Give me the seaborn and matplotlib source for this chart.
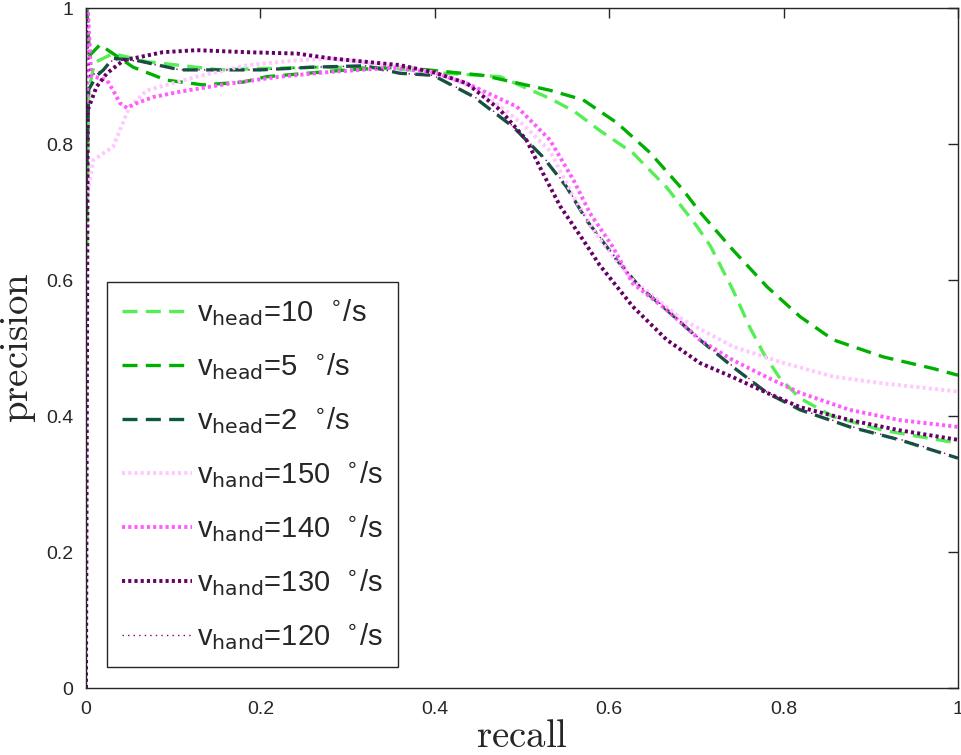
import matplotlib
matplotlib.use('Agg')
import matplotlib.pyplot as plt
import matplotlib.ticker as ticker
import pandas as pd
import seaborn as sns

# Curvas precision x recall
recall_head10 = [0.001, 0.003, 0.01, 0.031, 0.07, 0.154, 0.2, 0.268, 0.35, 0.4, 0.475, 0.532,
                 0.56, 0.589, 0.627, 0.666, 0.70, 0.716, 0.742, 0.761, 0.777, 0.796, 0.819, 0.857,
                 0.914, 1.0]
prec_head10 = [0.65, 0.88, 0.92, 0.933, 0.921, 0.909, 0.911, 0.913, 0.912, 0.905, 0.899, 0.867,
               0.848, 0.82, 0.787, 0.736, 0.680, 0.650, 0.585, 0.531, 0.492, 0.455, 0.426, 0.399,
               0.379, 0.36]

recall_head5 = [0.001, 0.004, 0.016, 0.054, 0.092, 0.134, 0.18, 0.207, 0.3, 0.36, 0.455, 0.532,
                0.57, 0.609, 0.647, 0.685, 0.704, 0.742, 0.781, 0.819, 0.857, 0.914, 0.971, 1.0]
prec_head5 = [1.0, 0.93, 0.946, 0.913, 0.894, 0.887, 0.891, 0.899, 0.909, 0.913, 0.901, 0.879,
              0.865, 0.831, 0.787, 0.732, 0.70, 0.644, 0.59, 0.546, 0.512, 0.487, 0.47, 0.46]

recall_head2 = [0.0, 0.003, 0.012, 0.02, 0.031, 0.058, 0.108, 0.146, 0.2, 0.26, 0.32, 0.36, 0.398,
                0.444, 0.49, 0.524, 0.551, 0.574, 0.609, 0.635, 0.666, 0.704, 0.742, 0.781, 0.819,
                0.876, 0.933, 1.0]
prec_head2 = [0.7, 0.88, 0.90, 0.909, 0.926, 0.923, 0.909, 0.909, 0.909, 0.913, 0.915, 0.904, 0.901,
              0.87, 0.825, 0.781, 0.737, 0.688, 0.629, 0.59, 0.556, 0.512, 0.472, 0.434, 0.409,
              0.384, 0.365, 0.338]

recall_hand150 = [0.001, 0.008, 0.031, 0.05, 0.07, 0.127, 0.185, 0.242, 0.28, 0.35, 0.4, 0.45,
                  0.5, 0.532, 0.56, 0.589, 0.627, 0.685, 0.742, 0.8, 0.857, 0.914, 1.0]
prec_hand150 = [0.72, 0.776, 0.796, 0.855, 0.879, 0.899, 0.916, 0.923, 0.926, 0.915, 0.905, 0.88,
                0.83, 0.79, 0.72, 0.66, 0.60, 0.541, 0.502, 0.478, 0.458, 0.448, 0.436]

recall_hand140 = [0.001, 0.002, 0.006, 0.024, 0.031, 0.039, 0.047, 0.058, 0.077, 0.108, 0.165,
                  0.222, 0.28, 0.35, 0.4, 0.437, 0.494, 0.532, 0.559, 0.578, 0.604, 0.627, 0.666,
                  0.704, 0.742, 0.781, 0.819, 0.876, 0.933, 1.0]
prec_hand140 = [0.75, 1.0, 0.90, 0.894, 0.879, 0.86, 0.853, 0.86, 0.869, 0.877, 0.889,
                0.899, 0.906, 0.912, 0.905, 0.889, 0.855, 0.806, 0.747, 0.698, 0.649, 0.595, 0.556,
                0.512, 0.482, 0.457, 0.434, 0.409, 0.394, 0.384]

recall_hand130 = [0.0, 0.002, 0.012, 0.024, 0.043, 0.062, 0.088, 0.127, 0.185, 0.242, 0.28, 0.36,
                  0.4, 0.437, 0.475, 0.505, 0.524, 0.544, 0.57, 0.589, 0.609, 0.627, 0.666, 0.704,
                  0.742, 0.781, 0.819, 0.876, 0.933, 1.0]
prec_hand130 = [0.0, 0.85, 0.884, 0.904, 0.923, 0.928, 0.935, 0.938, 0.935, 0.933, 0.926, 0.916,
                0.905, 0.889, 0.85, 0.806, 0.757, 0.708, 0.659, 0.622, 0.59, 0.561, 0.512, 0.478,
                0.457, 0.434, 0.413, 0.394, 0.379, 0.365]

recall_hand120 = [0.0, 0.001, 0.004, 0.02, 0.031, 0.058, 0.108, 0.146, 0.2, 0.26, 0.32, 0.36, 0.398,
                  0.444, 0.49, 0.524, 0.551, 0.574, 0.609, 0.635, 0.666, 0.704, 0.742, 0.781, 0.819,
                  0.876, 0.933, 1.0]
prec_hand120 = [0.0, 0.99, 0.90, 0.909, 0.924, 0.922, 0.909, 0.909, 0.909, 0.913, 0.915, 0.904, 0.901,
                0.871, 0.826, 0.782, 0.738, 0.689, 0.630, 0.591, 0.557, 0.513, 0.473, 0.435, 0.410,
                0.385, 0.366, 0.339]

labels = [r'v$_{\rm head}$=10  $^{\circ}$/s', r'v$_{\rm head}$=5  $^{\circ}$/s',
          r'v$_{\rm head}$=2  $^{\circ}$/s', r'v$_{\rm hand}$=150  $^{\circ}$/s',
          r'v$_{\rm hand}$=140  $^{\circ}$/s', r'v$_{\rm hand}$=130  $^{\circ}$/s',
          r'v$_{\rm hand}$=120  $^{\circ}$/s']

ticks = [0, 0.2, 0.4, 0.6, 0.8, 1]
tick_labels = ['0', '0.2', '0.4', '0.6', '0.8', '1']

sns.set_style('white')
plt.rcParams['font.family'] = ['Liberation Sans', 'DejaVu Sans']

fig = plt.figure(figsize=(9.61, 7.55), dpi=100)
ax = fig.add_axes([0.0895, 0.0887, 0.9074, 0.9007])

series = [
    (recall_head10, prec_head10, '#55ee55', (0, (4.5, 2.5)), 2.4),
    (recall_head5, prec_head5, '#00b000', (0, (4.5, 2.5)), 2.4),
    (recall_head2, prec_head2, '#0b5a3c', (0, (4.5, 2.5)), 2.4),
    (recall_hand150, prec_hand150, '#ffc8ff', (0, (0.8, 0.8)), 2.8),
    (recall_hand140, prec_hand140, '#ff5cff', (0, (0.8, 0.8)), 2.8),
    (recall_hand130, prec_hand130, '#660066', (0, (0.8, 0.8)), 2.8),
    (recall_hand120, prec_hand120, '#800080', (0, (1, 3)), 1.0),
]

for (rec, prec, cor, estilo, lw), lab in zip(series, labels):
    df = pd.DataFrame({'recall': rec, 'precision': prec})
    sns.lineplot(data=df, x='recall', y='precision', ax=ax, sort=False, estimator=None,
                 color=cor, linewidth=lw, linestyle=estilo, label=lab)

ax.set_xlim(0, 1)
ax.set_ylim(0, 1)
ax.xaxis.set_major_locator(ticker.FixedLocator(ticks))
ax.yaxis.set_major_locator(ticker.FixedLocator(ticks))
ax.set_xticklabels(tick_labels)
ax.set_yticklabels(tick_labels)
ax.tick_params(direction='in', length=7, width=1, labelsize=14, colors='#262626',
               top=True, right=True, pad=9)
for sp in ax.spines.values():
    sp.set_visible(True)
    sp.set_color('#262626')
    sp.set_linewidth(1.0)

ax.set_xlabel(r'$\mathrm{recall}$', fontsize=28, math_fontfamily='cm', labelpad=1)
ax.set_ylabel(r'$\mathrm{precision}$', fontsize=28, math_fontfamily='cm', labelpad=6)

leg = ax.legend(loc='lower left', bbox_to_anchor=(0.024, 0.031), borderaxespad=0,
                fancybox=False, framealpha=1, edgecolor='#262626', fontsize=21,
                handlelength=2.4, handletextpad=0.2, labelspacing=0.8, borderpad=0.5)
for t in leg.get_texts():
    t.set_math_fontfamily('dejavusans')
leg.get_frame().set_linewidth(1.0)

fig.savefig('out.png', dpi=100)
